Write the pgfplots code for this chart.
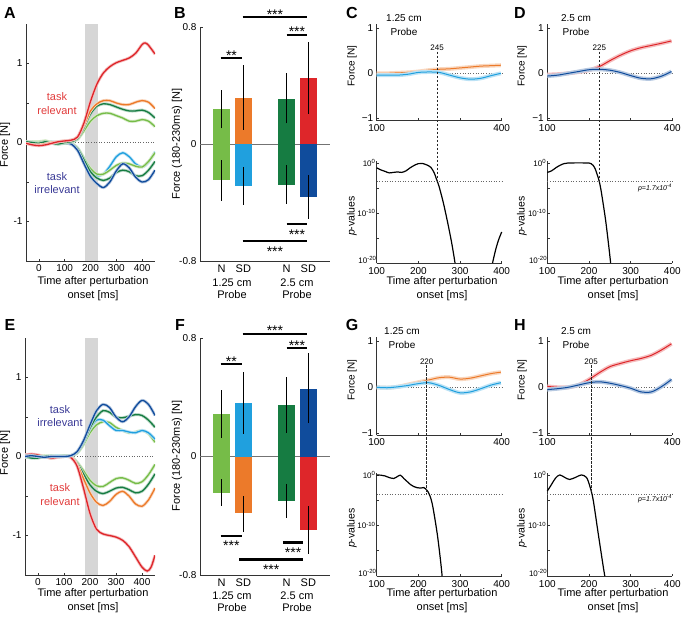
\documentclass[border=0pt]{standalone}
\usepackage{fontspec}
\setmainfont{Liberation Sans}
\usepackage{pgfplots}
\pgfplotsset{compat=1.18}

\definecolor{cRed}{RGB}{222,38,42}
\definecolor{cOra}{RGB}{236,122,42}
\definecolor{cLgr}{RGB}{118,188,72}
\definecolor{cDgr}{RGB}{22,124,66}
\definecolor{cLbl}{RGB}{32,160,222}
\definecolor{cDbl}{RGB}{16,76,156}
\definecolor{relTxt}{RGB}{225,60,60}
\definecolor{irrTxt}{RGB}{58,58,150}

\pgfplotsset{
  mat/.style={
    scale only axis, anchor=south west,
    axis lines*=left, tick align=inside, major tick length=2.5pt,
    axis line style={black!80, line width=0.5pt},
    tick style={black!80, line width=0.5pt},
    tick label style={font=\fontsize{10}{12}\selectfont},
    /pgf/number format/assume math mode=true,
  },
  forceax/.style={mat, width=125pt, xmin=100, xmax=400, ymin=-1.05, ymax=1.1,
    xtick={100,200,300,400}, xticklabels={100,,,400},
    ytick={-1,0,1}, yticklabels={−1,0,1}, clip=false},
  pax/.style={mat, width=125pt, xmin=100, xmax=400, ymin=1e-20, ymax=3,
    xtick={100,200,300,400}, x tick label style={yshift=-1pt},
    ytick={1e-15,1e-10,1e-5,1},
    yticklabels={,10\textsuperscript{-10},,10\textsuperscript{0}},
    extra y ticks={1e-20}, extra y tick labels={10\textsuperscript{-20}},
    extra y tick style={yticklabel style={yshift=3pt, xshift=1pt}},
    y tick label style={font=\fontsize{8}{9}\selectfont, inner sep=1pt}, clip=false},
  barax/.style={mat, width=130pt, xmin=0, xmax=6, ymin=-0.8, ymax=0.8, clip=false,
    xtick={1,2,4,5}, xticklabels={N,SD,N,SD}, xtick style={draw=none},
    x tick label style={font=\fontsize{11}{12}\selectfont},
    ytick={-0.8,0,0.8}, yticklabels={-0.8,0,0.8}},
  trax/.style={mat, xmin=-50, xmax=450, ymin=-1.5, ymax=1.5,
    xtick={0,100,200,300,400}, ytick={-1,-0.5,0,0.5,1}, yticklabels={-1,,0,,1}},
}
% trace with a pale band under it
\newcommand{\bandA}[2]{%
  \addplot[smooth, no markers, line width=3pt, #1!30] coordinates {#2};
  \addplot[smooth, no markers, line width=1.3pt, #1] coordinates {#2};}
\newcommand{\bandC}[2]{%
  \addplot[smooth, no markers, line width=4pt, #1!30] coordinates {#2};
  \addplot[smooth, no markers, line width=1pt, #1] coordinates {#2};}
\newcommand{\bbar}[3]{%
  \addplot[ybar, bar width=0.8, bar shift=0pt, fill=#1, draw=none] coordinates {(#2,#3)};}
\newcommand{\ebar}[3]{%
  \addplot[black, line width=1.1pt] coordinates {(#1,#2) (#1,#3)};}
\newcommand{\sigup}[4]{%
  \addplot[black, line width=2.2pt] coordinates {(#1,#3) (#2,#3)};
  \node[font=\fontsize{14}{14}\selectfont, anchor=base, inner sep=0pt, yshift=-2pt] at (axis cs:{(#1+#2)/2},#3) {#4};}
\newcommand{\sigdn}[4]{%
  \addplot[black, line width=2.2pt] coordinates {(#1,#3) (#2,#3)};
  \node[font=\fontsize{14}{14}\selectfont, anchor=base, inner sep=0pt, yshift=-15pt] at (axis cs:{(#1+#2)/2},#3) {#4};}

\begin{document}
\begin{tikzpicture}
\useasboundingbox (0pt,0pt) rectangle (684pt,-616pt);

%% ---------------- A ----------------
\begin{axis}[trax, at={(26pt,-261pt)}, width=129pt, height=237pt]
\addplot[fill=black!16, draw=none] coordinates {(180,-1.5) (180,1.5) (230,1.5) (230,-1.5)} -- cycle;
\addplot[black!60, dotted, line width=0.6pt] coordinates {(-50,0) (450,0)};
\bandA{cLbl}{(-50,0.01)(-25,0)(0,-0.01)(25,0)(50,0.01)(75,0)(100,0)(125,-0.01)(150,-0.07)(175,-0.22)(200,-0.36)(225,-0.42)(250,-0.40)(275,-0.30)(300,-0.18)(325,-0.13)(350,-0.18)(375,-0.27)(400,-0.31)(425,-0.25)(450,-0.12)}
\bandA{cLgr}{(-50,0)(-25,0.01)(0,0.01)(25,0.02)(50,0)(75,-0.01)(100,0)(125,-0.01)(150,-0.07)(175,-0.2)(200,-0.33)(225,-0.40)(250,-0.40)(275,-0.35)(300,-0.29)(325,-0.26)(350,-0.27)(375,-0.30)(400,-0.31)(425,-0.24)(450,-0.13)}
\bandA{cDgr}{(-50,0)(-25,-0.01)(0,0)(25,0.01)(50,-0.01)(75,-0.02)(100,-0.01)(125,-0.02)(150,-0.08)(175,-0.22)(200,-0.37)(225,-0.45)(250,-0.48)(275,-0.45)(300,-0.38)(325,-0.35)(350,-0.37)(375,-0.42)(400,-0.42)(425,-0.35)(450,-0.24)}
\bandA{cDbl}{(-50,0)(-25,0)(0,-0.01)(25,0)(50,0)(75,0)(100,0)(125,-0.02)(150,-0.1)(175,-0.27)(200,-0.43)(225,-0.52)(250,-0.57)(275,-0.50)(300,-0.36)(325,-0.27)(350,-0.32)(375,-0.44)(400,-0.50)(425,-0.47)(450,-0.35)}
\bandA{cLgr}{(-50,0.01)(-25,0)(0,0)(25,0.02)(50,0)(75,-0.01)(100,0)(125,0.01)(150,0.04)(175,0.15)(200,0.27)(225,0.34)(250,0.37)(275,0.37)(300,0.34)(325,0.31)(350,0.27)(375,0.27)(400,0.29)(425,0.27)(450,0.20)}
\bandA{cDgr}{(-50,0.01)(-25,0)(0,-0.01)(25,0.01)(50,-0.01)(75,-0.02)(100,0)(125,0.01)(150,0.05)(175,0.19)(200,0.36)(225,0.46)(250,0.49)(275,0.48)(300,0.45)(325,0.42)(350,0.40)(375,0.40)(400,0.41)(425,0.38)(450,0.31)}
\bandA{cOra}{(-50,-0.01)(-25,-0.03)(0,-0.03)(25,-0.02)(50,0)(75,0.01)(100,0.02)(125,0.03)(150,0.07)(175,0.22)(200,0.40)(225,0.49)(250,0.53)(275,0.53)(300,0.50)(325,0.48)(350,0.48)(375,0.51)(400,0.53)(425,0.51)(450,0.43)}
\bandA{cRed}{(-50,-0.01)(-25,-0.03)(0,-0.04)(25,-0.03)(50,-0.01)(75,0.01)(100,0.02)(125,0.03)(150,0.07)(175,0.25)(200,0.52)(225,0.74)(250,0.88)(275,0.96)(300,1.01)(325,1.04)(350,1.07)(375,1.13)(400,1.24)(412,1.26)(425,1.23)(450,1.12)}
\end{axis}

%% ---------------- B ----------------
\begin{axis}[barax, at={(200pt,-261pt)}, height=234pt]
\addplot[black!55, line width=0.7pt] coordinates {(0,0) (6,0)};
\bbar{cLgr}{1}{0.24}   \bbar{cLgr}{1}{-0.247}
\bbar{cOra}{2}{0.317}  \bbar{cLbl}{2}{-0.286}
\bbar{cDgr}{4}{0.31}   \bbar{cDgr}{4}{-0.277}
\bbar{cRed}{5}{0.45}   \bbar{cDbl}{5}{-0.363}
\ebar{1}{0.107}{0.37}  \ebar{1}{-0.11}{-0.387}
\ebar{2}{0.096}{0.54}  \ebar{2}{-0.156}{-0.42}
\ebar{4}{0.141}{0.484} \ebar{4}{-0.144}{-0.407}
\ebar{5}{0.206}{0.70}  \ebar{5}{-0.213}{-0.514}
\sigup{1.97}{4.95}{0.866}{***}
\sigup{4.0}{4.95}{0.747}{***}
\sigup{0.955}{1.95}{0.587}{**}
\sigdn{4.0}{4.95}{-0.549}{***}
\sigdn{1.97}{4.95}{-0.665}{***}
\end{axis}

%% ---------------- C ----------------
\begin{axis}[forceax, at={(376.7pt,-120.6pt)}, height=96.8pt]
\addplot[black!60, dotted, line width=0.6pt] coordinates {(100,0) (405,0)};
\bandC{cOra}{(100,0)(125,0)(150,0.01)(175,0.02)(200,0.04)(225,0.07)(250,0.09)(275,0.10)(300,0.12)(325,0.14)(350,0.16)(375,0.17)(398,0.18)}
\bandC{cLbl}{(100,-0.04)(125,-0.04)(150,-0.04)(175,-0.02)(200,0.02)(225,0.03)(250,0.02)(275,-0.04)(300,-0.10)(325,-0.13)(350,-0.11)(375,-0.05)(398,0)}
\coordinate (Ct) at (axis cs:245,0.48);
\node[font=\fontsize{8}{9}\selectfont, anchor=south, inner sep=1pt] at (axis cs:245,0.48) {245};
\end{axis}
\begin{axis}[ymode=log, pax, at={(376.7pt,-263pt)}, height=102.5pt]
\addplot[black!60, dotted, line width=0.6pt] coordinates {(100,1.7e-4) (405,1.7e-4)};
\addplot[black, line width=1.2pt, smooth, no markers] coordinates {(100,1e-1)(110,3.98e-2)(120,2e-2)(130,1e-2)(140,1.26e-2)(150,1.58e-2)(160,1.26e-2)(170,2.51e-2)(180,1e-1)(190,0.316)(200,0.708)(210,0.759)(220,0.398)(230,0.126)(238,1e-2)(245,2.5e-4)(250,1.58e-5)(260,1e-8)(270,1.58e-12)(280,1e-16)(288,1e-20)};
\addplot[black, line width=1.2pt, smooth, no markers] coordinates {(378,1e-20)(385,3.16e-18)(392,3.16e-16)(400,1.58e-14)};
\coordinate (Cb) at (axis cs:245,1.7e-4);
\end{axis}

%% ---------------- D ----------------
\begin{axis}[forceax, at={(547.3pt,-120.6pt)}, height=96.8pt]
\addplot[black!60, dotted, line width=0.6pt] coordinates {(100,0) (405,0)};
\bandC{cRed}{(100,-0.03)(125,-0.02)(150,0)(175,0.03)(200,0.07)(225,0.15)(250,0.28)(275,0.40)(300,0.50)(325,0.57)(350,0.62)(375,0.67)(398,0.72)}
\bandC{cDbl}{(100,-0.06)(125,-0.04)(150,0)(175,0.04)(200,0.08)(225,0.09)(250,0.07)(275,0.02)(300,-0.05)(325,-0.11)(350,-0.12)(375,-0.06)(398,0.04)}
\coordinate (Dt) at (axis cs:225,0.48);
\node[font=\fontsize{8}{9}\selectfont, anchor=south, inner sep=1pt] at (axis cs:225,0.48) {225};
\end{axis}
\begin{axis}[ymode=log, pax, at={(547.3pt,-263pt)}, height=102.5pt]
\addplot[black!60, dotted, line width=0.6pt] coordinates {(100,1.7e-4) (405,1.7e-4)};
\addplot[black, line width=1.2pt, smooth, no markers] coordinates {(100,1.26e-2)(110,2.51e-2)(120,1e-1)(130,0.316)(140,0.708)(150,0.955)(175,1)(200,0.955)(205,0.708)(210,0.316)(215,6.3e-2)(220,3.98e-3)(225,1.58e-4)(230,1e-6)(240,3.16e-12)(248,1e-17)(252,1e-20)};
\coordinate (Db) at (axis cs:225,1.7e-4);
\end{axis}

%% ---------------- E ----------------
\begin{axis}[trax, at={(25pt,-575pt)}, width=130pt, height=237pt]
\addplot[fill=black!16, draw=none] coordinates {(180,-1.5) (180,1.5) (230,1.5) (230,-1.5)} -- cycle;
\addplot[black!60, dotted, line width=0.6pt] coordinates {(-50,0) (450,0)};
\bandA{cLgr}{(-50,0)(-25,0.01)(0,0)(25,-0.01)(50,-0.01)(75,0)(100,0.01)(125,0)(150,-0.07)(175,-0.18)(200,-0.30)(225,-0.37)(250,-0.38)(275,-0.33)(300,-0.28)(325,-0.27)(350,-0.30)(375,-0.34)(400,-0.32)(425,-0.23)(450,-0.10)}
\bandA{cDgr}{(-50,-0.01)(-25,0)(0,0.01)(25,0)(50,-0.02)(75,0)(100,0.01)(125,0)(150,-0.08)(175,-0.22)(200,-0.36)(225,-0.44)(250,-0.47)(275,-0.44)(300,-0.40)(325,-0.39)(350,-0.42)(375,-0.46)(400,-0.44)(425,-0.35)(450,-0.22)}
\bandA{cOra}{(-50,0.02)(-25,0.02)(0,0.01)(25,0)(50,-0.02)(75,-0.01)(100,0)(125,0)(150,-0.1)(175,-0.28)(200,-0.46)(225,-0.58)(250,-0.62)(275,-0.57)(300,-0.48)(325,-0.44)(350,-0.50)(375,-0.60)(400,-0.63)(425,-0.55)(450,-0.40)}
\bandA{cRed}{(-50,0.02)(-25,0.03)(0,0.02)(25,0)(50,-0.02)(75,-0.01)(100,0)(125,-0.01)(150,-0.12)(175,-0.40)(200,-0.72)(225,-0.92)(250,-0.98)(275,-1.0)(300,-1.02)(325,-1.06)(350,-1.14)(375,-1.27)(400,-1.40)(420,-1.45)(435,-1.40)(450,-1.25)}
\bandA{cLgr}{(-50,0)(-25,0.01)(0,0)(25,0.01)(50,0)(75,0.01)(100,0.01)(125,0.01)(150,0.04)(175,0.15)(200,0.30)(225,0.40)(250,0.44)(275,0.43)(300,0.37)(325,0.33)(350,0.30)(375,0.31)(400,0.33)(425,0.29)(450,0.18)}
\bandA{cLbl}{(-50,0.01)(-25,0)(0,-0.01)(25,0)(50,0)(75,0.01)(100,0)(125,0.01)(150,0.05)(175,0.18)(200,0.35)(225,0.46)(250,0.46)(275,0.39)(300,0.33)(325,0.33)(350,0.31)(375,0.30)(400,0.33)(425,0.30)(450,0.22)}
\bandA{cDgr}{(-50,0)(-25,-0.02)(0,-0.02)(25,0)(50,0.01)(75,0)(100,0.01)(125,0.01)(150,0.05)(175,0.18)(200,0.36)(225,0.50)(250,0.58)(275,0.56)(300,0.50)(325,0.49)(350,0.51)(375,0.53)(400,0.52)(425,0.46)(450,0.37)}
\bandA{cDbl}{(-50,0)(-25,0.01)(0,0)(25,-0.01)(50,0)(75,0)(100,0)(125,0.01)(150,0.06)(175,0.2)(200,0.40)(225,0.58)(250,0.66)(275,0.62)(300,0.50)(325,0.44)(350,0.50)(375,0.63)(400,0.71)(425,0.66)(450,0.52)}
\end{axis}

%% ---------------- F ----------------
\begin{axis}[barax, at={(200pt,-575pt)}, height=237pt]
\addplot[black!55, line width=0.7pt] coordinates {(0,0) (6,0)};
\bbar{cLgr}{1}{0.284}  \bbar{cLgr}{1}{-0.245}
\bbar{cLbl}{2}{0.361}  \bbar{cOra}{2}{-0.384}
\bbar{cDgr}{4}{0.345}  \bbar{cDgr}{4}{-0.298}
\bbar{cDbl}{5}{0.459}  \bbar{cRed}{5}{-0.495}
\ebar{1}{0.125}{0.448} \ebar{1}{-0.155}{-0.336}
\ebar{2}{0.152}{0.573} \ebar{2}{-0.268}{-0.507}
\ebar{4}{0.159}{0.534} \ebar{4}{-0.184}{-0.416}
\ebar{5}{0.225}{0.698} \ebar{5}{-0.336}{-0.659}
\sigup{1.97}{4.95}{0.827}{***}
\sigup{4.0}{4.95}{0.732}{***}
\sigup{0.95}{1.95}{0.623}{**}
\sigdn{0.95}{1.95}{-0.534}{***}
\sigdn{3.82}{4.77}{-0.58}{***}
\sigdn{1.8}{4.77}{-0.695}{***}
\end{axis}

%% ---------------- G ----------------
\begin{axis}[forceax, at={(376.7pt,-435.4pt)}, height=98.5pt]
\addplot[black!60, dotted, line width=0.6pt] coordinates {(100,0) (405,0)};
\bandC{cOra}{(100,0)(125,-0.01)(150,0.01)(175,0.06)(200,0.11)(225,0.16)(250,0.21)(275,0.22)(300,0.18)(325,0.20)(350,0.25)(375,0.30)(398,0.33)}
\bandC{cLbl}{(100,0)(125,-0.01)(150,0.01)(175,0.04)(200,0.08)(225,0.10)(250,0.04)(275,-0.05)(300,-0.12)(325,-0.10)(350,-0.03)(375,0.05)(398,0.10)}
\coordinate (Gt) at (axis cs:220,0.48);
\node[font=\fontsize{8}{9}\selectfont, anchor=south, inner sep=1pt] at (axis cs:220,0.48) {220};
\end{axis}
\begin{axis}[ymode=log, pax, at={(376.7pt,-576pt)}, height=103.5pt]
\addplot[black!60, dotted, line width=0.6pt] coordinates {(100,1.7e-4) (405,1.7e-4)};
\addplot[black, line width=1.2pt, smooth, no markers] coordinates {(100,0.95)(110,0.9)(120,0.63)(130,0.3)(141,0.2)(150,0.5)(157,0.89)(165,0.2)(173,5e-2)(181,1.26e-2)(189,5e-3)(197,3e-3)(205,2.5e-3)(213,3.16e-3)(223,5e-4)(233,2.5e-6)(245,3.16e-12)(253,1.58e-17)(257,1e-20)};
\coordinate (Gb) at (axis cs:220,1.7e-4);
\end{axis}

%% ---------------- H ----------------
\begin{axis}[forceax, at={(547.3pt,-435.4pt)}, height=98.5pt]
\addplot[black!60, dotted, line width=0.6pt] coordinates {(100,0) (405,0)};
\bandC{cRed}{(100,0.02)(125,0)(150,0)(175,0.05)(200,0.17)(225,0.32)(250,0.45)(275,0.52)(300,0.58)(325,0.63)(350,0.70)(375,0.82)(398,0.95)}
\bandC{cDbl}{(100,-0.05)(125,-0.03)(150,0)(175,0.05)(200,0.10)(225,0.12)(250,0.09)(275,0.04)(300,-0.02)(325,-0.10)(350,-0.10)(375,0.02)(398,0.17)}
\coordinate (Ht) at (axis cs:205,0.48);
\node[font=\fontsize{8}{9}\selectfont, anchor=south, inner sep=1pt] at (axis cs:205,0.48) {205};
\end{axis}
\begin{axis}[ymode=log, pax, at={(547.3pt,-576pt)}, height=103.5pt]
\addplot[black!60, dotted, line width=0.6pt] coordinates {(100,1.7e-4) (405,1.7e-4)};
\addplot[black, line width=1.2pt, smooth, no markers] coordinates {(100,6.3e-4)(110,1.26e-2)(120,0.25)(130,1)(142,0.316)(154,0.126)(170,0.398)(182,1)(194,0.316)(202,6.3e-3)(210,1.26e-5)(222,3.16e-12)(234,1e-18)(238,1e-20)};
\coordinate (Hb) at (axis cs:205,1.7e-4);
\end{axis}

\draw[black!85, line width=0.5pt, dash pattern=on 2.5pt off 1.5pt] (Ct) -- (Cb);
\draw[black!85, line width=0.5pt, dash pattern=on 2.5pt off 1.5pt] (Dt) -- (Db);
\draw[black!85, line width=0.5pt, dash pattern=on 2.5pt off 1.5pt] (Gt) -- (Gb);
\draw[black!85, line width=0.5pt, dash pattern=on 2.5pt off 1.5pt] (Ht) -- (Hb);

\begin{scope}[x=1pt, y=-1pt]
% panel letters
\foreach \l/\xx/\yy in {A/10/13, B/180/13, C/352/13, D/520/13, E/10/325, F/180/325, G/352/325, H/520/325}
  \node[font=\fontsize{16}{16}\selectfont\bfseries] at (\xx,\yy) {\l};
% A / E annotations
\node[font=\fontsize{11}{13.3}\selectfont, text=relTxt, align=center] at (57,103.5) {task\\relevant};
\node[font=\fontsize{11}{13.3}\selectfont, text=irrTxt, align=center] at (57,183) {task\\irrelevant};
\node[font=\fontsize{11}{13.3}\selectfont, text=irrTxt, align=center] at (60,416) {task\\irrelevant};
\node[font=\fontsize{11}{13.3}\selectfont, text=relTxt, align=center] at (60,494.5) {task\\relevant};
% y labels
\node[font=\fontsize{11}{12}\selectfont, rotate=90] at (5,145) {Force [N]};
\node[font=\fontsize{11}{12}\selectfont, rotate=90] at (5,453) {Force [N]};
\node[font=\fontsize{11}{12}\selectfont, rotate=90] at (177,144) {Force (180-230ms) [N]};
\node[font=\fontsize{11}{12}\selectfont, rotate=90] at (177,456) {Force (180-230ms) [N]};
\foreach \xx in {352,522} {
  \node[font=\fontsize{10}{12}\selectfont, rotate=90] at (\xx,66) {Force [N]};
  \node[font=\fontsize{10.5}{12}\selectfont, rotate=90] at (\xx,216) {\textit{p}-values};
  \node[font=\fontsize{10}{12}\selectfont, rotate=90] at (\xx,380) {Force [N]};
  \node[font=\fontsize{10.5}{12}\selectfont, rotate=90] at (\xx,528) {\textit{p}-values};
}
% x labels
\foreach \xx in {93,442,613} {
  \node[font=\fontsize{11}{14}\selectfont, align=center] at (\xx,289) {Time after perturbation\\onset [ms]};
  \node[font=\fontsize{11}{14}\selectfont, align=center] at (\xx,601) {Time after perturbation\\onset [ms]};
}
% bar group labels
\node[font=\fontsize{11}{12.5}\selectfont, align=center] at (232,288.5) {1.25 cm\\Probe};
\node[font=\fontsize{11}{12.5}\selectfont, align=center] at (297,288.5) {2.5 cm\\Probe};
\node[font=\fontsize{11}{12.5}\selectfont, align=center] at (232,601.5) {1.25 cm\\Probe};
\node[font=\fontsize{11}{12.5}\selectfont, align=center] at (297,601.5) {2.5 cm\\Probe};
% probe titles
\node[font=\fontsize{10}{14}\selectfont, align=center] at (404,25) {1.25 cm\\Probe};
\node[font=\fontsize{10}{14}\selectfont, align=center] at (576,25) {2.5 cm\\Probe};
\node[font=\fontsize{10}{14}\selectfont, align=center] at (402,338) {1.25 cm\\Probe};
\node[font=\fontsize{10}{14}\selectfont, align=center] at (576,338) {2.5 cm\\Probe};
% threshold labels
\node[font=\fontsize{7}{8}\selectfont\itshape] at (655,188) {p=1.7x10\textsuperscript{-4}};
\node[font=\fontsize{7}{8}\selectfont\itshape] at (655,499) {p=1.7x10\textsuperscript{-4}};
\end{scope}
\end{tikzpicture}
\end{document}
